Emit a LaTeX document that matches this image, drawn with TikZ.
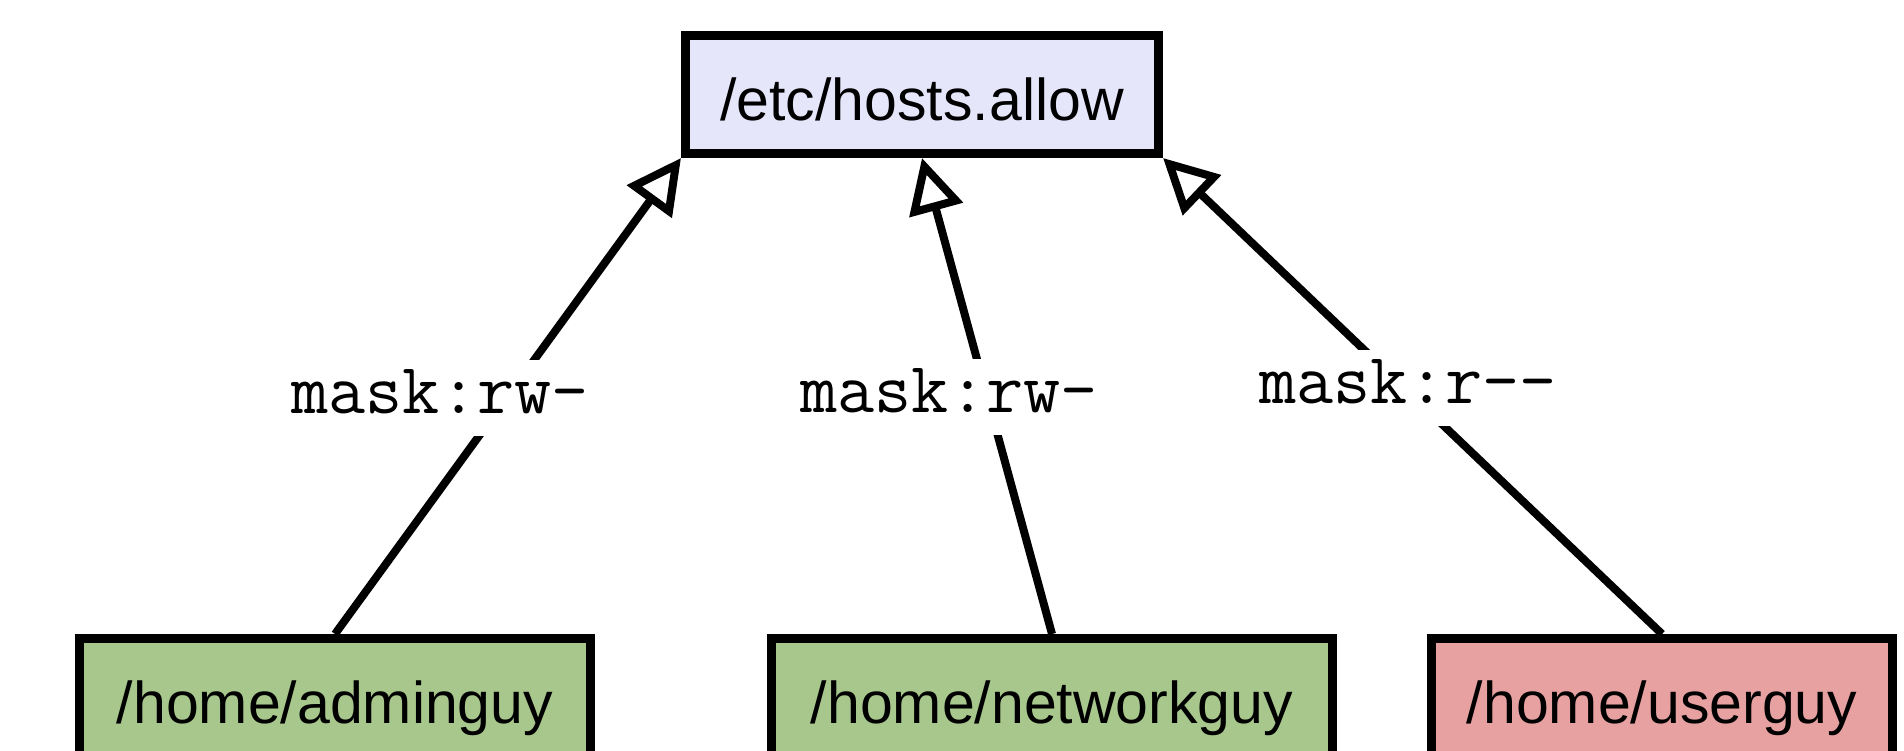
\documentclass[tikz,border=0pt]{standalone}
\usepackage{fontspec}
\setmainfont{Liberation Sans}
\usetikzlibrary{arrows.meta}
\definecolor{boxlav}{HTML}{E6E6FA}
\definecolor{boxgreen}{HTML}{A8C78C}
\definecolor{boxred}{HTML}{E8A1A1}
\begin{document}
\begin{tikzpicture}[x=0.5pt,y=-0.5pt,
  dirbox/.style={draw=black, line width=4.5pt, rectangle, minimum height=59pt,
    inner sep=0pt, font=\fontsize{29.5}{34}\selectfont,
    text height=28pt, text depth=2.5pt},
  mask/.style={fill=white, inner xsep=4pt, inner ysep=0pt,
    text height=26.5pt, text depth=11.5pt,
    font=\ttfamily\fontsize{36}{40}\selectfont, anchor=base},
  link/.style={line width=4pt, -{Triangle[open, length=27pt, width=27pt]}}]
\useasboundingbox (0,0) rectangle (1904,750);
\clip (0,0) rectangle (1904,750);

% directories
\node[dirbox, fill=boxlav, minimum width=236.5pt] (allow) at (922,94.5) {/etc/hosts.allow};
\node[dirbox, fill=boxgreen, minimum width=255.5pt] (admin) at (335,697.5) {/home/adminguy};
\node[dirbox, fill=boxgreen, minimum width=280.5pt] (net) at (1052,697.5) {/home/networkguy};
\node[dirbox, fill=boxred, minimum width=230.5pt] (user) at (1662,697.5) {/home/userguy};

% access links
\draw[link] (admin.north) -- (allow.south west);
\draw[link] (net.north) -- (allow.south);
\draw[link] (user.north) -- (allow.south east);

% mask labels
\node[mask] (m1) at (440,413) {mask:rw-};
\node[mask] (m2) at (949,412) {mask:rw-};
\node[mask] (m3) at (1408,403) {mask:r--};
\end{tikzpicture}
\end{document}
